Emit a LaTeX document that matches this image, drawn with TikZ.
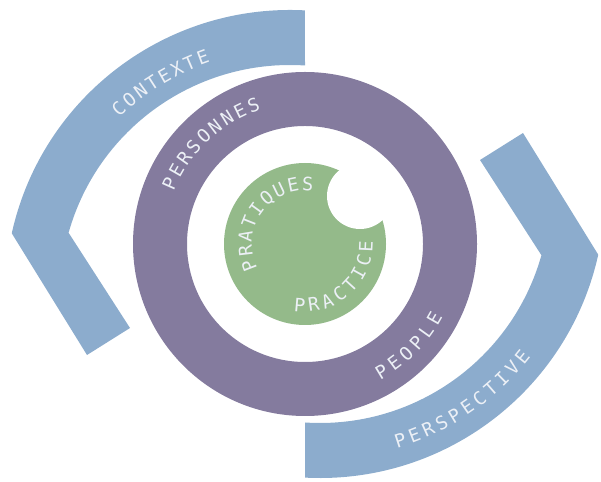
\documentclass[tikz,border=0pt]{standalone}
\usepackage{fontspec}
\newfontfamily\lblfont{DejaVu Sans Mono}

\definecolor{ctxblue}{RGB}{140,172,205}
\definecolor{ringpurple}{RGB}{132,123,158}
\definecolor{irisgreen}{RGB}{148,186,138}
\definecolor{lbltext}{RGB}{236,240,246}

\tikzset{letter/.style={text=lbltext, inner sep=0pt, text height=13.5pt, text depth=0pt,
    font=\lblfont\fontsize{18.5}{18.5}\selectfont}}

% one band of the "eye", drawn round its own centre
\newcommand{\eyeband}{%
  \fill[ctxblue] (87:285) arc[start angle=87, end angle=167.5, radius=285]
    -- (-203,-60) -- (-160,-33) -- (164.3:230)
    arc[start angle=164.3, end angle=86.26, radius=230] -- cycle;}

% letters set one by one along a circle
\newcommand{\arcword}[7]{% name, centre, radius, first angle, step, turn, letters
  \foreach \ch [count=\k] in {#7} {
    \pgfmathsetmacro\ang{#4+(\k-1)*(#5)}
    \node[letter, rotate={\ang+(#6)}] (#1-\k) at ([shift={(#2)}]\ang:#3) {\ch};
  }}

\begin{document}
\begin{tikzpicture}[x=1pt,y=1pt]
	\useasboundingbox (0,0) rectangle (601,481);
	\coordinate (C) at (305,237);
	\coordinate (bite) at (360,285);

	\begin{scope}[shift={(290,186)}]
		\eyeband
	\end{scope}
	\begin{scope}[shift={(320,288)}, rotate=180]
		\eyeband
	\end{scope}

	\fill[ringpurple, even odd rule] (C) circle[radius=172] (C) circle[radius=118];
	\fill[irisgreen] (C) circle[radius=81];
	\fill[white] (bite) circle[radius=33];

	\arcword{ctx}{290,186}{253}{132.6}{-3.2}{-90}{C,O,N,T,E,X,T,E}
	\arcword{prs}{C}{148}{156}{-5.7}{-90}{P,E,R,S,O,N,N,E,S}
	\arcword{ppl}{C}{149}{-59}{5.85}{90}{P,E,O,P,L,E}
	\arcword{psp}{320,288}{260}{-72}{3.3}{90}{P,E,R,S,P,E,C,T,I,V,E}
	\arcword{prt}{C}{60}{201}{-14.2}{-90}{P,R,A,T,I,Q,U,E,S}
	\arcword{prc}{C}{61}{-95}{13.2}{90}{P,R,A,C,T,I,C,E}
\end{tikzpicture}
\end{document}
